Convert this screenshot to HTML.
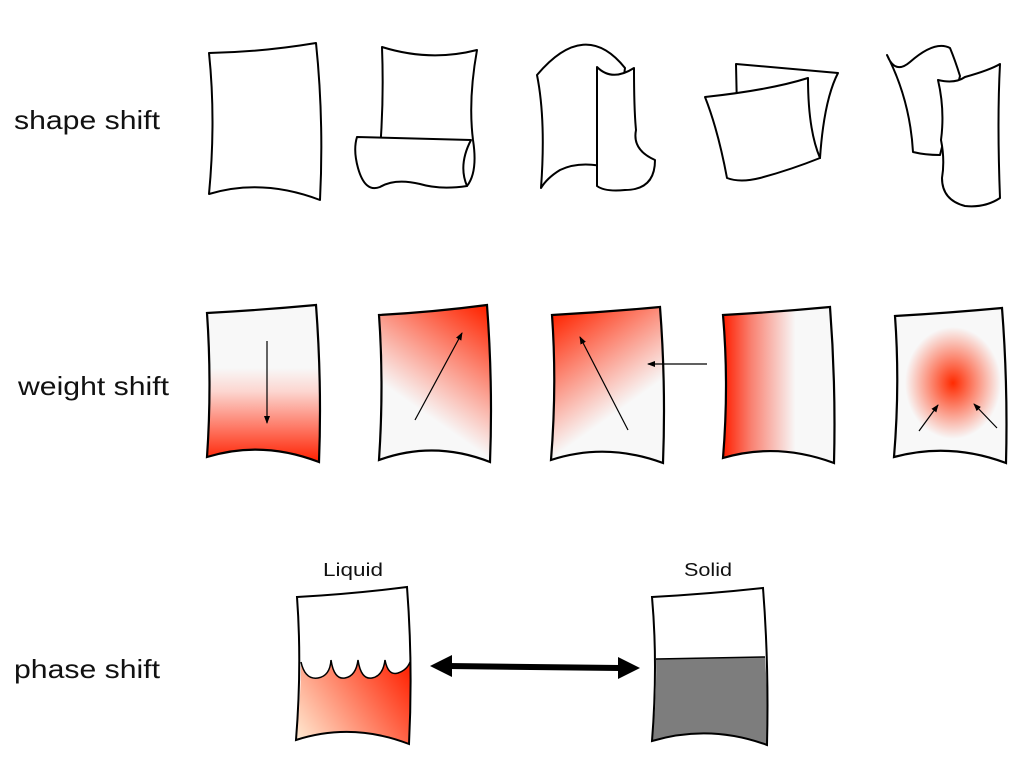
<!DOCTYPE html>
<html><head><style>
body{margin:0;background:#fff;}
svg{display:block}
text{font-family:"Liberation Sans",sans-serif;fill:#111}
</style></head><body>
<svg width="1024" height="768" viewBox="0 0 1024 768">
<defs>
<marker id="ah" markerWidth="8" markerHeight="8" refX="7" refY="4" orient="auto" markerUnits="userSpaceOnUse"><path d="M0,1 L8,4 L0,7 Z" fill="#000"/></marker>
<linearGradient id="g1" x1="0" y1="0" x2="0" y2="1"><stop offset="0.4" stop-color="#f8f8f8"/><stop offset="0.55" stop-color="#fcd6d0"/><stop offset="1" stop-color="#ff2000"/></linearGradient>
<linearGradient id="g2" gradientUnits="userSpaceOnUse" x1="420" y1="410" x2="490" y2="310"><stop offset="0" stop-color="#f8f8f8"/><stop offset="1" stop-color="#ff2400"/></linearGradient>
<linearGradient id="g3" gradientUnits="userSpaceOnUse" x1="620" y1="410" x2="552" y2="315"><stop offset="0" stop-color="#f8f8f8"/><stop offset="1" stop-color="#ff2400"/></linearGradient>
<linearGradient id="g4" x1="0" y1="0" x2="1" y2="0"><stop offset="0" stop-color="#ff1e00"/><stop offset="0.25" stop-color="#f98070"/><stop offset="0.65" stop-color="#f8f8f8"/><stop offset="1" stop-color="#f8f8f8"/></linearGradient>
<radialGradient id="g5" cx="0.5" cy="0.5" r="0.5"><stop offset="0" stop-color="#ff2a00"/><stop offset="1" stop-color="#ff2a00" stop-opacity="0"/></radialGradient>
<linearGradient id="gl" gradientUnits="userSpaceOnUse" x1="300" y1="742" x2="410" y2="665"><stop offset="0" stop-color="#ffe8d0"/><stop offset="1" stop-color="#ff2000"/></linearGradient>
</defs>

<text x="14" y="129" font-size="26" textLength="146" lengthAdjust="spacingAndGlyphs">shape shift</text>
<text x="18" y="395" font-size="26" textLength="151" lengthAdjust="spacingAndGlyphs">weight shift</text>
<text x="14" y="678" font-size="26" textLength="146" lengthAdjust="spacingAndGlyphs">phase shift</text>

<g fill="#fff" stroke="#000" stroke-width="2" stroke-linejoin="round">
<path d="M209,53 Q262,52 316,43 Q324,120 320,200 Q262,178 209,194 Q216,120 209,53Z"/>
<path d="M382,47 Q430,62 477,50 Q468,100 473,140 Q478,172 467,186 L380,150 Q384,100 382,47Z"/>
<path d="M357,137 L471,140 Q458,165 467,186 Q440,190 420,184 Q395,178 380,187 Q365,193 358,168 Q353,150 357,137Z"/>
<path d="M537,75 Q585,18 625,68 L611,168 Q580,160 560,170 Q547,178 541,188 Q546,120 537,75Z"/>
<path d="M597,67 Q612,82 634,68 Q634,110 636,130 Q632,150 655,160 Q655,190 625,190 Q605,192 597,186 Z"/>
<path d="M736,64 L838,73 Q824,100 820,158 L737,110Z"/>
<path d="M705,97 Q770,90 808,78 Q808,130 820,158 Q790,170 760,178 Q740,183 727,178 Q718,130 705,97Z"/>
<path d="M887,55 Q895,75 910,62 Q935,40 950,48 Q955,60 960,76 L940,155 Q925,155 913,152 Q910,100 887,55Z"/>
<path d="M938,80 Q955,84 965,77 Q990,70 1000,64 Q997,120 1000,198 Q985,208 965,206 Q942,200 942,178 Q945,160 941,140 Q945,110 938,80Z"/>
</g>

<g stroke="#000" stroke-width="2.2">
<path d="M207,313 Q262,310 316,305 Q322,385 319,462 Q262,440 207,457 Q212,385 207,313Z" fill="url(#g1)"/>
<path d="M379,315 Q434,312 487,305 Q493,385 490,462 Q434,440 379,460 Q384,385 379,315Z" fill="url(#g2)"/>
<path d="M552,315 Q606,312 660,307 Q666,385 663,463 Q606,442 551,460 Q557,385 552,315Z" fill="url(#g3)"/>
<path d="M723,315 Q777,312 830,307 Q836,385 834,463 Q777,442 723,458 Q729,385 723,315Z" fill="url(#g4)"/>
<path d="M895,316 Q948,313 1002,308 Q1008,385 1006,463 Q950,442 894,457 Q900,385 895,316Z" fill="#f8f8f8"/>
</g>
<ellipse cx="953" cy="383" rx="48" ry="56" fill="url(#g5)"/>
<g stroke="#000" stroke-width="1.2" marker-end="url(#ah)">
<line x1="267" y1="341" x2="267" y2="423"/>
<line x1="415" y1="420" x2="462" y2="333"/>
<line x1="628" y1="430" x2="580" y2="337"/>
<line x1="707" y1="364" x2="648" y2="364"/>
<line x1="919" y1="431" x2="938" y2="405"/>
<line x1="997" y1="428" x2="974" y2="404"/>
</g>

<text x="353" y="576" font-size="18" text-anchor="middle" textLength="60" lengthAdjust="spacingAndGlyphs">Liquid</text>
<text x="708" y="576" font-size="18" text-anchor="middle" textLength="48" lengthAdjust="spacingAndGlyphs">Solid</text>
<path d="M301,662 Q305,680 318,678 Q330,676 331,660 Q334,680 345,678 Q356,676 358,660 Q361,680 372,678 Q383,676 385,660 Q388,676 398,673 Q407,670 410,662 Q412,705 409,744 Q352,722 296,740 Q301,700 301,662Z" fill="url(#gl)"/>
<path d="M297,597 Q352,594 407,587 Q413,665 409,744 Q352,722 296,740 Q302,665 297,597Z" fill="none" stroke="#000" stroke-width="2"/>
<path d="M301,662 Q305,680 318,678 Q330,676 331,660 Q334,680 345,678 Q356,676 358,660 Q361,680 372,678 Q383,676 385,660 Q388,676 398,673 Q407,670 410,662" fill="none" stroke="#000" stroke-width="1.5"/>

<path d="M656,659 L765,657 Q768,700 767,745 Q710,724 652,741 Q657,700 656,659Z" fill="#7d7d7d"/>
<path d="M652,597 Q708,594 763,588 Q769,665 767,745 Q710,724 652,741 Q658,665 652,597Z" fill="none" stroke="#000" stroke-width="2"/>
<line x1="656" y1="659" x2="765" y2="657" stroke="#000" stroke-width="1.5"/>

<line x1="448" y1="666" x2="620" y2="668" stroke="#000" stroke-width="6"/>
<path d="M430,666 L452,655 L452,677Z" fill="#000"/>
<path d="M640,668 L618,657 L618,679Z" fill="#000"/>
</svg>
</body></html>
